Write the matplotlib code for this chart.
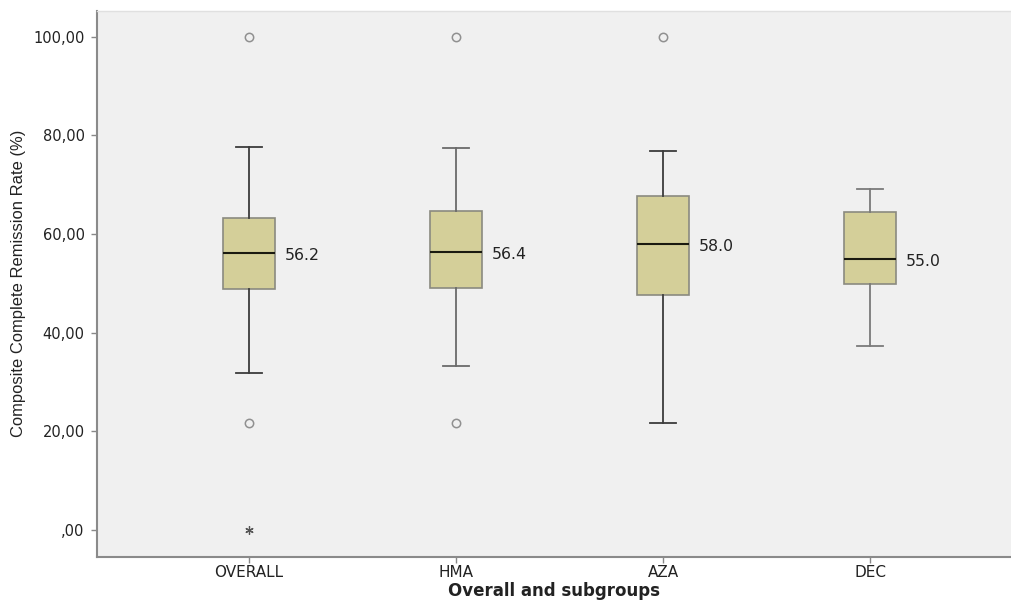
import matplotlib
matplotlib.use("Agg")
import matplotlib.pyplot as plt

groups = ["OVERALL", "HMA", "AZA", "DEC"]
whisker_low = [31.9, 33.3, 21.6, 37.3]
q1 = [48.9, 49.0, 47.6, 49.9]
medians = [56.2, 56.4, 58.0, 55.0]
q3 = [63.3, 64.6, 67.7, 64.5]
whisker_high = [77.6, 77.5, 76.9, 69.2]
outliers = [[21.7, 100.0], [21.7, 100.0], [100.0], []]
extremes = [[0.0], [], [], []]
median_labels = ["56.2", "56.4", "58.0", "55.0"]
ytick_vals = [0, 20, 40, 60, 80, 100]
ytick_labels = [",00", "20,00", "40,00", "60,00", "80,00", "100,00"]

fig = plt.figure(figsize=(10.11, 6.03), dpi=100)
ax = fig.add_axes([0.096, 0.0763, 0.904, 0.906])
ax.set_facecolor("#f0f0f0")

stats = []
for i in range(len(groups)):
    stats.append(dict(med=medians[i], q1=q1[i], q3=q3[i],
                      whislo=whisker_low[i], whishi=whisker_high[i],
                      fliers=[], label=groups[i]))
positions = list(range(1, len(groups) + 1))
bp = ax.bxp(stats, positions=positions, widths=0.25, patch_artist=True,
            showfliers=False,
            boxprops=dict(facecolor="#d4cf99", edgecolor="#8a8a80", linewidth=1.2),
            medianprops=dict(color="#1a1a10", linewidth=1.5),
            whiskerprops=dict(color="#555555", linewidth=1.3),
            capprops=dict(color="#555555", linewidth=1.3),
            capwidths=0.125)
whisk_cols = ["#3c3c3c", "#6a6a6a", "#3c3c3c", "#7a7a7a"]
for i, c in enumerate(whisk_cols):
    for ln in bp["whiskers"][2 * i:2 * i + 2] + bp["caps"][2 * i:2 * i + 2]:
        ln.set_color(c)

for i, pos in enumerate(positions):
    if outliers[i]:
        ax.plot([pos] * len(outliers[i]), outliers[i], linestyle="none",
                marker="o", markersize=6, markerfacecolor="none",
                markeredgecolor="#909090", markeredgewidth=1.1)
    if extremes[i]:
        ax.plot([pos] * len(extremes[i]), extremes[i], linestyle="none",
                marker=(6, 2, 0), markersize=6, color="#555555",
                markeredgewidth=0.9)
    ax.text(pos + 0.172, medians[i] - 0.5, median_labels[i], va="center", ha="left",
            fontsize=11.3, color="#222222", family="DejaVu Sans")

ax.set_xlim(0.266, 4.68)
ax.set_ylim(-5.5, 105.3)
ax.set_xticks(positions)
ax.set_xticklabels(groups, fontsize=11, family="DejaVu Sans", color="#222222")
ax.set_yticks(ytick_vals)
ax.set_yticklabels(ytick_labels, fontsize=10.5, family="DejaVu Sans", color="#222222")
ax.tick_params(axis="both", color="#888888", length=4, width=1)
ax.tick_params(axis="y", pad=5)
ax.tick_params(axis="x", pad=2)

ax.set_xlabel("Overall and subgroups", fontsize=12, fontweight="bold",
              family="DejaVu Sans", color="#222222", labelpad=1.5)
ax.set_ylabel("Composite Complete Remission Rate (%)", fontsize=11.9,
              family="Liberation Sans", color="#222222", labelpad=5)

ax.spines["right"].set_visible(False)
ax.spines["top"].set_color("#e0e0e0")
ax.spines["top"].set_linewidth(1.0)
for s in ["left", "bottom"]:
    ax.spines[s].set_color("#8a8a8a")
    ax.spines[s].set_linewidth(1.5)

fig.savefig("out.png", dpi=100, facecolor="white")
